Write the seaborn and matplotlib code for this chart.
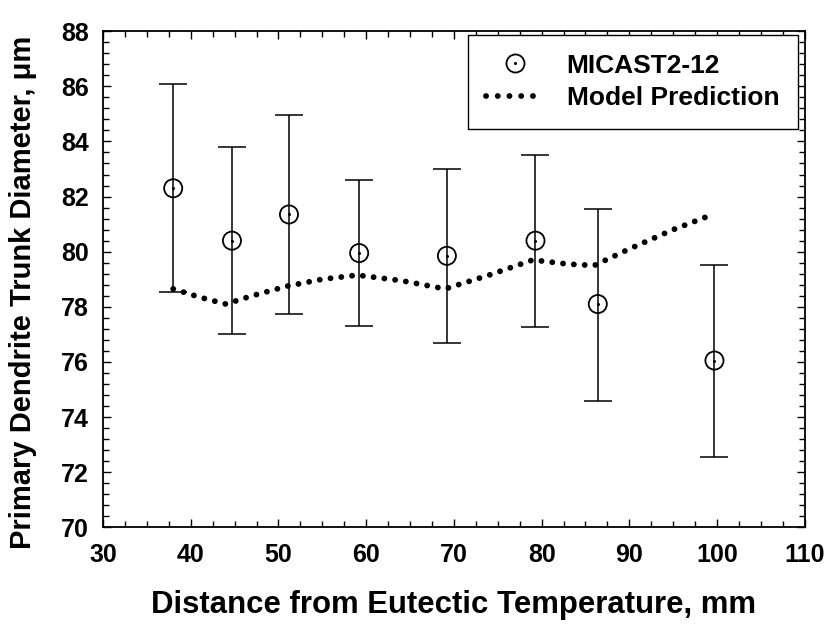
import numpy as np
import pandas as pd
import matplotlib
matplotlib.use("Agg")
import matplotlib.pyplot as plt
import seaborn as sns
from matplotlib.ticker import MultipleLocator
from matplotlib.lines import Line2D

# Measured data (MICAST2-12)
dist = [38.0, 44.7, 51.2, 59.2, 69.2, 79.3, 86.4, 99.7]
diam = [82.3, 80.4, 81.35, 79.95, 79.85, 80.4, 78.1, 76.05]
err_hi = [86.1, 83.8, 84.95, 82.6, 83.0, 83.5, 81.55, 79.5]
err_lo = [78.55, 77.0, 77.75, 77.3, 76.7, 77.25, 74.6, 72.55]

# Model prediction curve
model_x = [38.0, 41.0, 44.0, 47.0, 51.0, 55.0, 59.0, 64.0, 69.0, 74.0, 79.0, 83.0, 86.0, 90.0, 95.0, 99.5]
model_y = [78.65, 78.35, 78.1, 78.4, 78.75, 79.0, 79.15, 78.95, 78.65, 79.15, 79.7, 79.55, 79.5, 80.1, 80.8, 81.35]

xticks = [30, 40, 50, 60, 70, 80, 90, 100, 110]
yticks = [70, 72, 74, 76, 78, 80, 82, 84, 86, 88]

sns.set_style("ticks")
plt.rcParams['font.family'] = ['Liberation Sans', 'DejaVu Sans']
plt.rcParams['font.weight'] = 'bold'
for k in ['text.color', 'axes.labelcolor', 'xtick.color', 'ytick.color', 'axes.edgecolor']:
    plt.rcParams[k] = 'black'

fig = plt.figure(figsize=(8.34, 6.24), dpi=100)
ax = fig.add_axes([0.1235, 0.155, 0.8415, 0.795])

df_pts = pd.DataFrame({"x": dist, "y": diam})
df_mod = pd.DataFrame({"x": model_x, "y": model_y})

lo = np.array(diam) - np.array(err_lo)
hi = np.array(err_hi) - np.array(diam)
ax.errorbar(dist, diam, yerr=[lo, hi], fmt='none', ecolor='black',
            elinewidth=1.1, capsize=10, capthick=1.1, zorder=2)

LW = 4.2
DOTS = (0.01, 1.85)
sns.lineplot(data=df_mod, x="x", y="y", ax=ax, color='black', linewidth=LW,
             dashes=False, sort=False, zorder=3)
line = ax.lines[-1]
line.set_dashes(DOTS)
line.set_dash_capstyle('round')

sns.scatterplot(data=df_pts, x="x", y="y", ax=ax, marker='o', s=170,
                facecolor='none', edgecolor='black', linewidth=1.3, zorder=4)
ax.plot(dist, diam, linestyle='none', marker='o', markersize=1.2,
        color='black', zorder=5)

ax.set_xlim(30, 110)
ax.set_ylim(70, 88)
ax.set_xticks(xticks)
ax.set_yticks(yticks)
ax.xaxis.set_minor_locator(MultipleLocator(2.5))
ax.yaxis.set_minor_locator(MultipleLocator(0.4))
ax.tick_params(which='both', direction='in', top=True, right=True, color='black', width=1.0)
ax.tick_params(which='major', length=6, labelsize=18)
ax.tick_params(axis='x', which='major', pad=11)
ax.tick_params(axis='y', which='major', pad=10)
ax.tick_params(which='minor', length=4)
for lab in ax.get_xticklabels() + ax.get_yticklabels():
    lab.set_fontweight('bold')
for s in ax.spines.values():
    s.set_color('black')
    s.set_linewidth(1.3)

ax.set_xlabel("Distance from Eutectic Temperature, mm", fontsize=22.4, fontweight='bold', labelpad=17)
ax.set_ylabel("Primary Dendrite Trunk Diameter, μm", fontsize=21, fontweight='bold', loc='bottom')
ax.yaxis.set_label_coords(-0.094, -0.043)

h_circ = Line2D([], [], linestyle='none', marker='o', markersize=13, markerfacecolor='none',
                markeredgecolor='black', markeredgewidth=1.3)
h_dot = Line2D([], [], linestyle='none', marker='o', markersize=1.2, color='black')
h_line = Line2D([], [], color='black', linewidth=LW, dashes=(0.01, 2.0), dash_capstyle='round')
leg = ax.legend([(h_circ, h_dot), h_line], ["MICAST2-12", "Model Prediction"],
                loc='upper right', bbox_to_anchor=(0.990, 0.992), borderaxespad=0,
                fancybox=False, framealpha=1, edgecolor='black',
                prop={'size': 19, 'weight': 'bold'},
                handlelength=2.2, handletextpad=0.85, borderpad=0.7, labelspacing=0.33)
leg.get_frame().set_linewidth(1.0)

fig.savefig("out.png", dpi=100)
